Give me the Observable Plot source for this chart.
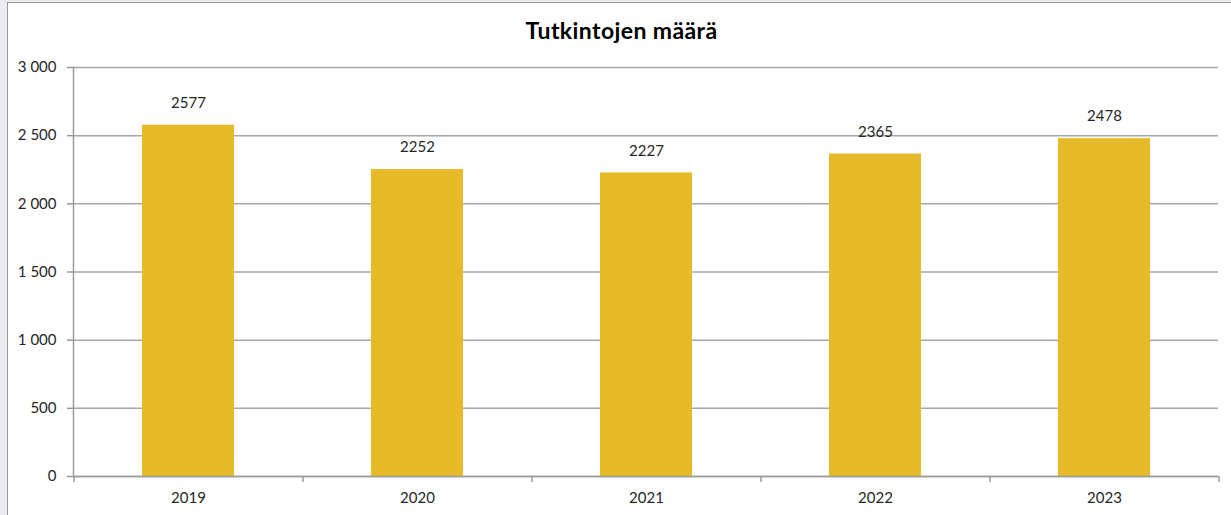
<!DOCTYPE html>
<html>
<head>
<meta charset="utf-8">
<script src="https://cdn.jsdelivr.net/npm/d3@7"></script>
<script src="https://cdn.jsdelivr.net/npm/@observablehq/plot@0.6"></script>
<style>
  html, body { margin: 0; padding: 0; background: #eaecef; width: 1231px; height: 515px; overflow: hidden; }
  #panel { position: absolute; left: 7px; top: 2px; width: 1224px; height: 513px; background: #fff;
           border-left: 1.5px solid #9a9a9a; border-top: 1.5px solid #9a9a9a; box-sizing: border-box; }
  #title { height: 47px; font-family: Lato, "Open Sans", sans-serif; font-weight: bold; font-size: 23px;
           letter-spacing: 0.4px; color: #000; text-align: center; line-height: 54px; padding-left: 4px; }
</style>
</head>
<body>
<div id="panel">
  <div id="title">Tutkintojen määrä</div>
  <div id="chart"></div>
</div>
<script>
const years = ["2019", "2020", "2021", "2022", "2023"];
const counts = [2577, 2252, 2227, 2365, 2478];
const yTicks = [0, 500, 1000, 1500, 2000, 2500, 3000];

const data = years.map((year, i) => ({year, count: counts[i]}));

const W = 1222, H = 466, ML = 65, MR = 12, MT = 17, MB = 40;
const step = (W - ML - MR) / years.length;
const fmt = d => d3.format(",")(d).replace(/,/g, " ");
const axisColor = "#9a9a9a";
const tickLen = 6 * 3000 / (H - MT - MB);

const chart = Plot.plot({
  width: W,
  height: H,
  marginTop: MT,
  marginBottom: MB,
  marginLeft: ML,
  marginRight: MR,
  style: {fontFamily: "Lato, 'Open Sans', sans-serif", fontSize: "15px", color: "#262626", background: "white", overflow: "visible"},
  x: {domain: years, paddingInner: 0.6, paddingOuter: 0.3, align: 0.5},
  y: {domain: [0, 3000]},
  marks: [
    Plot.gridY(yTicks, {stroke: "#a6a6a6", strokeOpacity: 1, strokeWidth: 1.5}),
    Plot.barY(data, {x: "year", y: "count", fill: "#E6BA28"}),
    Plot.ruleY([0], {stroke: axisColor, strokeWidth: 1.5}),
    Plot.frame({anchor: "left", stroke: axisColor, strokeWidth: 1.5}),
    Plot.ruleX(years, {x: d => d, y1: 0, y2: -tickLen, dx: -step / 2, stroke: axisColor, strokeWidth: 1.5}),
    Plot.ruleX(years.slice(-1), {x: d => d, y1: 0, y2: -tickLen, dx: step / 2, stroke: axisColor, strokeWidth: 1.5}),
    Plot.axisY(yTicks, {tickSize: 6, tickPadding: 11, tickFormat: fmt, stroke: axisColor, strokeWidth: 1.5, fill: "#262626", label: null}),
    Plot.axisX({tickSize: 0, tickPadding: 16, fill: "#262626", label: null}),
    Plot.text(data, {x: "year", y: "count", text: d => String(d.count), dy: -22, fill: "#262626"})
  ]
});
document.getElementById("chart").appendChild(chart);
</script>
</body>
</html>
